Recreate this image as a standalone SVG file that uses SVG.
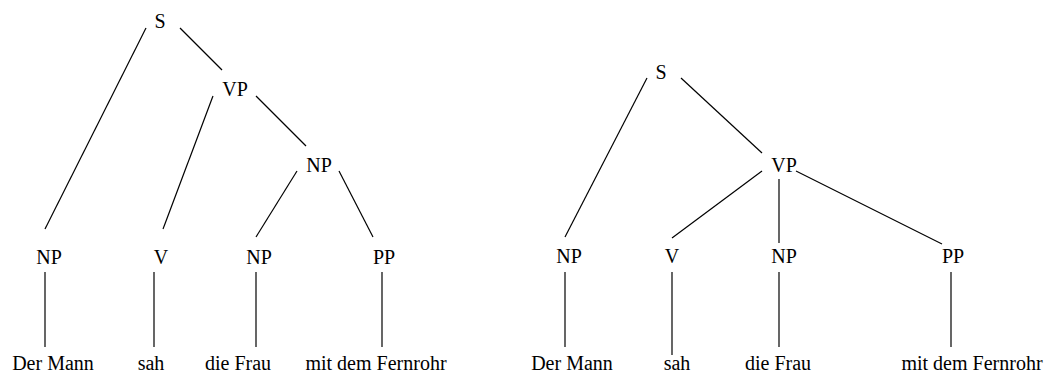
<svg xmlns="http://www.w3.org/2000/svg" width="1055" height="376" viewBox="0 0 1055 376">
<style>
text{font-family:"Liberation Serif","Times New Roman",serif;font-size:20px;fill:#000;text-anchor:middle}
line{stroke:#000;stroke-width:1.2}
</style>
<rect width="1055" height="376" fill="#fff"/>
<g id="connectors">
<line x1="146" y1="28" x2="45" y2="229"/>
<line x1="180" y1="28" x2="222" y2="70"/>
<line x1="213" y1="96" x2="163" y2="229"/>
<line x1="256" y1="96" x2="306" y2="146"/>
<line x1="297" y1="171" x2="256" y2="237"/>
<line x1="339" y1="171" x2="373" y2="237"/>
<line x1="45" y1="272" x2="45" y2="347"/>
<line x1="154" y1="272" x2="154" y2="347"/>
<line x1="256" y1="272" x2="256" y2="347"/>
<line x1="382" y1="272" x2="382" y2="347"/>
<line x1="647" y1="78" x2="565" y2="237"/>
<line x1="681" y1="78" x2="762" y2="153"/>
<line x1="762" y1="171" x2="672" y2="238"/>
<line x1="779" y1="179" x2="779" y2="243"/>
<line x1="796" y1="171" x2="942" y2="244"/>
<line x1="565" y1="272" x2="565" y2="347"/>
<line x1="672" y1="272" x2="672" y2="355"/>
<line x1="779" y1="272" x2="779" y2="347"/>
<line x1="951" y1="272" x2="951" y2="347"/>
</g>
<g id="t1-S"><text x="160" y="28">S</text></g>
<g id="t1-VP"><text x="235" y="96">VP</text></g>
<g id="t1-NP2"><text x="319" y="172">NP</text></g>
<g id="t1-NP1"><text x="49" y="264">NP</text></g>
<g id="t1-V"><text x="161" y="264">V</text></g>
<g id="t1-NP3"><text x="259" y="264">NP</text></g>
<g id="t1-PP"><text x="384" y="264">PP</text></g>
<g id="t1-w1"><text x="53" y="370">Der Mann</text></g>
<g id="t1-w2"><text x="151" y="370">sah</text></g>
<g id="t1-w3"><text x="238" y="370">die Frau</text></g>
<g id="t1-w4"><text x="376" y="370">mit dem Fernrohr</text></g>
<g id="t2-S"><text x="661" y="79">S</text></g>
<g id="t2-VP"><text x="784" y="172">VP</text></g>
<g id="t2-NP1"><text x="569" y="263">NP</text></g>
<g id="t2-V"><text x="672" y="263">V</text></g>
<g id="t2-NP2"><text x="784" y="263">NP</text></g>
<g id="t2-PP"><text x="953" y="263">PP</text></g>
<g id="t2-w1"><text x="572" y="370">Der Mann</text></g>
<g id="t2-w2"><text x="677" y="370">sah</text></g>
<g id="t2-w3"><text x="778" y="370">die Frau</text></g>
<g id="t2-w4"><text x="972" y="370">mit dem Fernrohr</text></g>
</svg>
